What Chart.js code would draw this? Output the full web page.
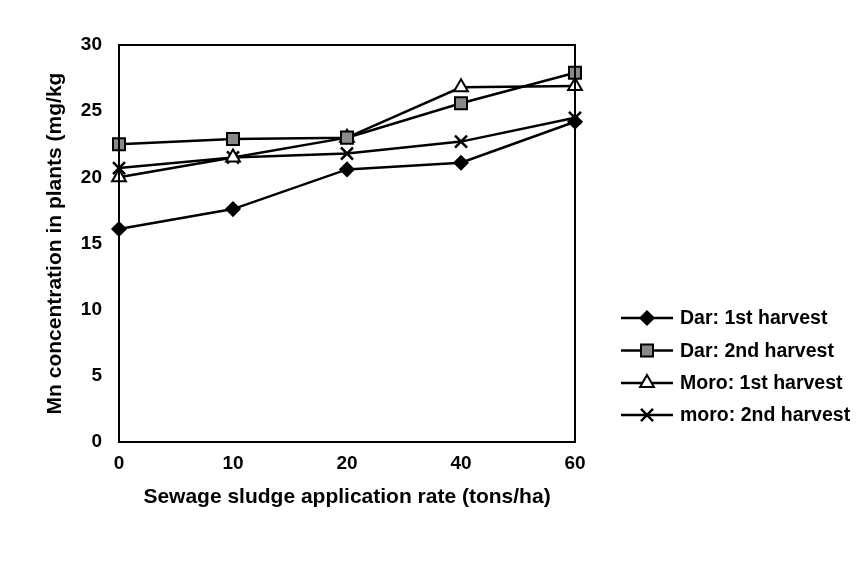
<!DOCTYPE html>
<html>
<head>
<meta charset="utf-8">
<script src="https://cdn.jsdelivr.net/npm/chart.js@4"></script>
<style>
  html, body { margin: 0; padding: 0; background: #fff; }
  #wrap { width: 859px; height: 581px; }
</style>
</head>
<body>
<div id="wrap"><canvas id="mnChart" width="859" height="581"></canvas></div>
<script>
// application rates (tons/ha)
const rates = ['0', '10', '20', '40', '60'];

const darFirst = [16.1, 17.6, 20.6, 21.1, 24.2];
const darSecond = [22.5, 22.9, 23.0, 25.6, 27.9];
const moroFirst = [20.0, 21.5, 23.0, 26.8, 26.9];
const moroSecond = [20.7, 21.5, 21.8, 22.7, 24.5];

const seriesNames = ['Dar: 1st harvest', 'Dar: 2nd harvest', 'Moro: 1st harvest', 'moro: 2nd harvest'];
const yTicks = [0, 5, 10, 15, 20, 25, 30];

const FONT = '"Liberation Sans", Arial, sans-serif';

const markers = [
  { pointStyle: 'rectRot', radius: 7, fill: '#000', border: '#000', width: 1.5 },
  { pointStyle: 'rect', radius: 8.5, fill: '#8a8a8a', border: '#000', width: 2 },
  { pointStyle: 'triangle', radius: 8, fill: '#fff', border: '#000', width: 2 },
  { pointStyle: 'crossRot', radius: 8.5, fill: '#000', border: '#000', width: 2.5 }
];

function makeSet(label, data, m) {
  return {
    label,
    data,
    borderColor: '#000',
    borderWidth: 2.5,
    tension: 0,
    fill: false,
    pointStyle: m.pointStyle,
    pointRadius: m.radius,
    pointBackgroundColor: m.fill,
    pointBorderColor: m.border,
    pointBorderWidth: m.width
  };
}

// frame around the plot area (top + right edges)
const frame = {
  id: 'frame',
  afterDatasetsDraw(chart) {
    const { ctx, chartArea: a } = chart;
    ctx.save();
    ctx.strokeStyle = '#000';
    ctx.lineWidth = 2;
    ctx.strokeRect(a.left, a.top, a.right - a.left, a.bottom - a.top);
    ctx.restore();
  }
};

// legend drawn with line + marker, like the original
const sideLegend = {
  id: 'sideLegend',
  afterDraw(chart) {
    const { ctx } = chart;
    const x0 = 621, x1 = 673, tx = 680;
    const rows = [318, 350.5, 383, 415];
    ctx.save();
    chart.data.datasets.forEach((ds, i) => {
      const y = rows[i];
      ctx.strokeStyle = '#000';
      ctx.lineWidth = 2.5;
      ctx.beginPath();
      ctx.moveTo(x0, y);
      ctx.lineTo(x1, y);
      ctx.stroke();
      const m = markers[i];
      ctx.fillStyle = m.fill;
      ctx.strokeStyle = m.border;
      ctx.lineWidth = m.width;
      Chart.helpers.drawPoint(ctx, { pointStyle: m.pointStyle, radius: m.radius, rotation: 0, borderWidth: m.width }, (x0 + x1) / 2, y);
      ctx.fillStyle = '#000';
      ctx.font = 'bold 19.5px ' + FONT;
      ctx.textBaseline = 'middle';
      ctx.textAlign = 'left';
      ctx.fillText(ds.label, tx, y + 1);
    });
    ctx.restore();
  }
};

new Chart(document.getElementById('mnChart'), {
  type: 'line',
  data: {
    labels: rates,
    datasets: [
      makeSet(seriesNames[0], darFirst, markers[0]),
      makeSet(seriesNames[1], darSecond, markers[1]),
      makeSet(seriesNames[2], moroFirst, markers[2]),
      makeSet(seriesNames[3], moroSecond, markers[3])
    ]
  },
  options: {
    responsive: false,
    animation: false,
    layout: { padding: { left: 0, top: 45, right: 284, bottom: 71 } },
    plugins: {
      legend: { display: false },
      tooltip: { enabled: false }
    },
    scales: {
      x: {
        offset: false,
        grid: { display: false, drawTicks: false },
        border: { display: true, color: '#000', width: 2 },
        ticks: {
          color: '#000',
          padding: 10,
          maxRotation: 0,
          font: { family: FONT, size: 19, weight: 'bold' }
        },
        title: {
          display: true,
          text: 'Sewage sludge application rate (tons/ha)',
          color: '#000',
          padding: { top: 0, bottom: 0 },
          font: { family: FONT, size: 21, weight: 'bold' }
        },
        afterFit(scale) { scale.height = 68; }
      },
      y: {
        min: 0,
        max: 30,
        grid: { display: false, drawTicks: false },
        border: { display: true, color: '#000', width: 2 },
        afterBuildTicks(scale) { scale.ticks = yTicks.map(v => ({ value: v })); },
        ticks: {
          color: '#000',
          padding: 17,
          font: { family: FONT, size: 19, weight: 'bold' }
        },
        title: {
          display: true,
          text: 'Mn concentration in plants (mg/kg',
          color: '#000',
          padding: { top: 43, bottom: 0 },
          font: { family: FONT, size: 21, weight: 'bold' }
        },
        afterFit(scale) { scale.width = 119; }
      }
    }
  },
  plugins: [frame, sideLegend]
});
</script>
</body>
</html>
